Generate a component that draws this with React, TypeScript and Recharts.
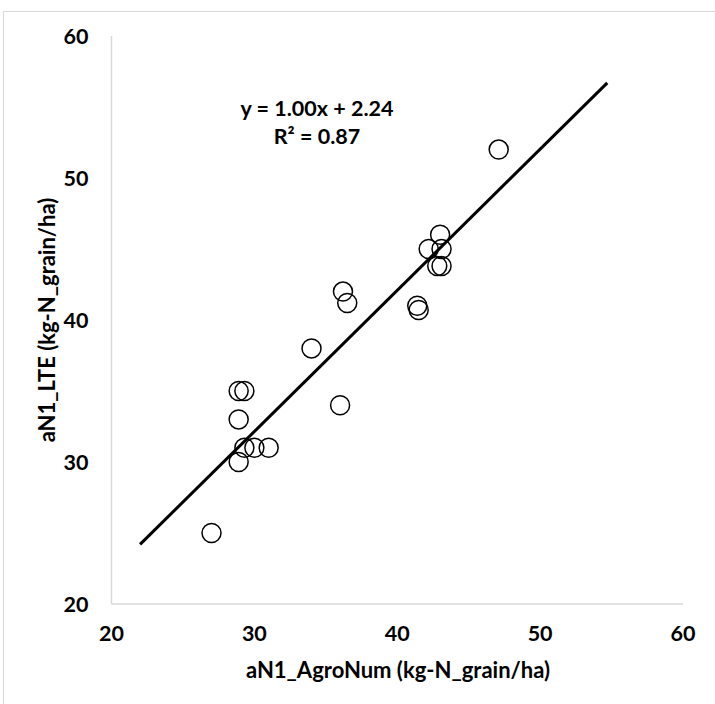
import {
  ScatterChart,
  Scatter,
  XAxis,
  YAxis,
  ReferenceLine,
  Label,
} from 'recharts';

// aN1_AgroNum vs aN1_LTE (kg-N_grain/ha)
const agroNum = [27.0, 28.9, 29.3, 30.0, 31.0, 28.9, 28.9, 29.3, 34.0, 36.0, 36.2, 36.5, 41.4, 41.5, 47.1, 43.0, 42.2, 43.1, 42.8, 43.1];
const lte = [25.0, 30.0, 31.0, 31.0, 31.0, 33.0, 35.0, 35.0, 38.0, 34.0, 42.0, 41.2, 41.0, 40.7, 52.0, 46.0, 45.0, 45.0, 43.8, 43.8];

// trend line end points
const trendX = [22.0, 54.7];
const trendY = [24.2, 56.7];

const axisTicks = [20, 30, 40, 50, 60];
const equationText = 'y = 1.00x + 2.24';
const r2Text = 'R² = 0.87';

const points = agroNum.map((x, i) => ({ x, y: lte[i] }));
const trend = trendX.map((x, i) => ({ x, y: trendY[i] }));

const FONT = 'Lato, "Noto Sans", sans-serif';
const tickStyle = { fontSize: 21.5, fontWeight: 700, fill: '#000', fontFamily: FONT };
const titleStyle = { fontSize: 22, fontWeight: 700, fontFamily: FONT, fill: '#000' };

const Ring = (props: any) => {
  const { cx, cy } = props;
  if (cx == null || cy == null) return null;
  return <circle cx={cx} cy={cy} r={9.5} fill="none" stroke="#000" strokeWidth={1.5} />;
};

export default function App() {
  return (
    <div
      style={{
        position: 'absolute',
        left: 0,
        top: 0,
        width: 715,
        height: 704,
        overflow: 'hidden',
        background: '#fff',
        fontFamily: FONT,
      }}
    >
      <div
        style={{
          position: 'absolute',
          left: 3,
          top: 11,
          width: 800,
          height: 800,
          border: '1px solid #d9d9d9',
        }}
      />
      <div style={{ position: 'absolute', left: 0, top: 0 }}>
        <ScatterChart width={715} height={704} margin={{ top: 36, right: 32, bottom: 40, left: 51.5 }}>
          <XAxis
            type="number"
            dataKey="x"
            domain={[20, 60]}
            ticks={axisTicks}
            interval={0}
            tick={tickStyle}
            tickLine={false}
            tickSize={0}
            tickMargin={22}
            axisLine={{ stroke: '#d9d9d9', strokeWidth: 1.5 }}
            height={60}
          >
            <Label
              content={() => (
                <text x={398} y={669} textAnchor="middle" dominantBaseline="central" style={titleStyle}>
                  aN1_AgroNum (kg-N_grain/ha)
                </text>
              )}
            />
          </XAxis>
          <YAxis
            type="number"
            dataKey="y"
            domain={[20, 60]}
            ticks={axisTicks}
            interval={0}
            tick={tickStyle}
            tickLine={false}
            tickSize={0}
            tickMargin={23}
            axisLine={{ stroke: '#d9d9d9', strokeWidth: 1.5 }}
            width={60}
          >
            <Label
              content={() => (
                <text
                  x={46}
                  y={320}
                  transform="rotate(-90 46 320)"
                  textAnchor="middle"
                  dominantBaseline="central"
                  style={titleStyle}
                >
                  aN1_LTE (kg-N_grain/ha)
                </text>
              )}
            />
          </YAxis>
          <ReferenceLine
            segment={[trend[0], trend[1]]}
            stroke="#000"
            strokeWidth={3}
            ifOverflow="visible"
          />
          <Scatter data={points} shape={Ring} isAnimationActive={false} />
        </ScatterChart>
      </div>
      <div
        style={{
          position: 'absolute',
          left: 217,
          top: 94,
          width: 200,
          textAlign: 'center',
          fontSize: 21.5,
          fontWeight: 700,
          lineHeight: '28px',
          color: '#000',
        }}
      >
        <div>{equationText}</div>
        <div>{r2Text}</div>
      </div>
    </div>
  );
}
